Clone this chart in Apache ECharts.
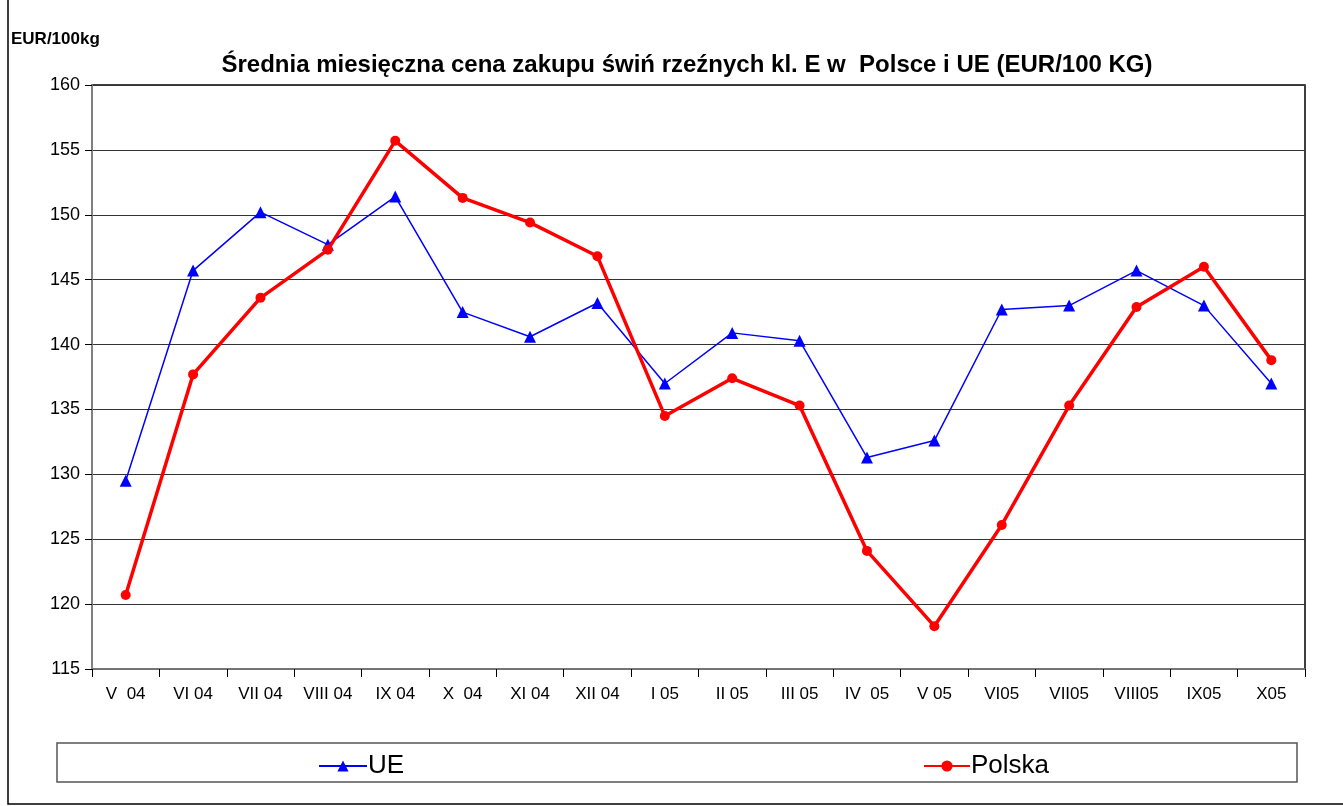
<!DOCTYPE html>
<html><head><meta charset="utf-8">
<script src="https://cdn.jsdelivr.net/npm/echarts@6/dist/echarts.min.js"></script>
<style>html,body{margin:0;padding:0;background:#fff}#c{width:1343px;height:806px}</style>
</head><body><div id="c"></div>
<script>
const categories = ['V  04','VI 04','VII 04','VIII 04','IX 04','X  04','XI 04','XII 04','I 05','II 05','III 05','IV  05','V 05','VI05','VII05','VIII05','IX05','X05'];
const ue = [129.5,145.7,150.2,147.7,151.4,142.5,140.6,143.2,137.0,140.9,140.3,131.3,132.6,142.7,143.0,145.7,143.0,137.0];
const polska = [120.7,137.7,143.6,147.3,155.7,151.3,149.4,146.8,134.5,137.4,135.3,124.1,118.3,126.1,135.3,142.9,146.0,138.8];
const yTicks = {min:115, max:160, interval:5};

const FONT = "'Liberation Sans',Arial,sans-serif";
const chart = echarts.init(document.getElementById('c'));
chart.setOption({
  backgroundColor:'#fff',
  animation:false,
  title:{text:'Średnia miesięczna cena zakupu świń rzeźnych kl. E w  Polsce i UE (EUR/100 KG)',
    left:682, top:48, textAlign:'center',
    textStyle:{fontFamily:FONT,fontWeight:'bold',fontSize:24,color:'#000'}},
  graphic:[
    {type:'rect',shape:{x:8,y:-2,width:1340,height:806},style:{fill:'none',stroke:'#000',lineWidth:1.5},z:-1},
    {type:'rect',shape:{x:57,y:743,width:1240,height:39},style:{fill:'#fff',stroke:'#555',lineWidth:1.5},z:0},
    {type:'text',left:11,top:31,style:{text:'EUR/100kg',font:"bold 17px "+FONT,fill:'#000'}}
  ],
  legend:[
    {data:['UE'],left:313,top:748,itemWidth:48,itemHeight:14,itemGap:5,
      textStyle:{fontFamily:FONT,fontSize:26,color:'#000',padding:[0,0,0,-4]}},
    {data:['Polska'],left:918,top:748,itemWidth:46,itemHeight:14,
      textStyle:{fontFamily:FONT,fontSize:26,color:'#000',padding:[0,0,0,-4]}}
  ],
  grid:{left:92,right:38,top:85,bottom:137,show:true,borderColor:'#000',borderWidth:1.5,backgroundColor:'#fff'},
  xAxis:{type:'category',data:categories,boundaryGap:true,
    axisLine:{lineStyle:{color:'#888',width:1.5}},
    axisTick:{show:true,length:8,lineStyle:{color:'#000'},alignWithLabel:false},
    axisLabel:{fontFamily:FONT,fontSize:17,color:'#000',margin:17,interval:0},
    splitLine:{show:false}},
  yAxis:{type:'value',min:yTicks.min,max:yTicks.max,interval:yTicks.interval,
    axisLine:{show:true,lineStyle:{color:'#999',width:1.5}},
    axisTick:{show:true,length:7,lineStyle:{color:'#000'}},
    axisLabel:{fontFamily:FONT,fontSize:18,color:'#000',margin:12},
    splitLine:{lineStyle:{color:'#333',width:1.2}}},
  series:[
    {name:'UE',type:'line',data:ue,symbol:'triangle',symbolSize:12,
      lineStyle:{color:'#0000ff',width:1.5},itemStyle:{color:'#0000ff'},z:3},
    {name:'Polska',type:'line',data:polska,symbol:'circle',symbolSize:10,
      lineStyle:{color:'#ff0000',width:3.5},itemStyle:{color:'#ff0000'},z:4}
  ]
});
</script></body></html>
